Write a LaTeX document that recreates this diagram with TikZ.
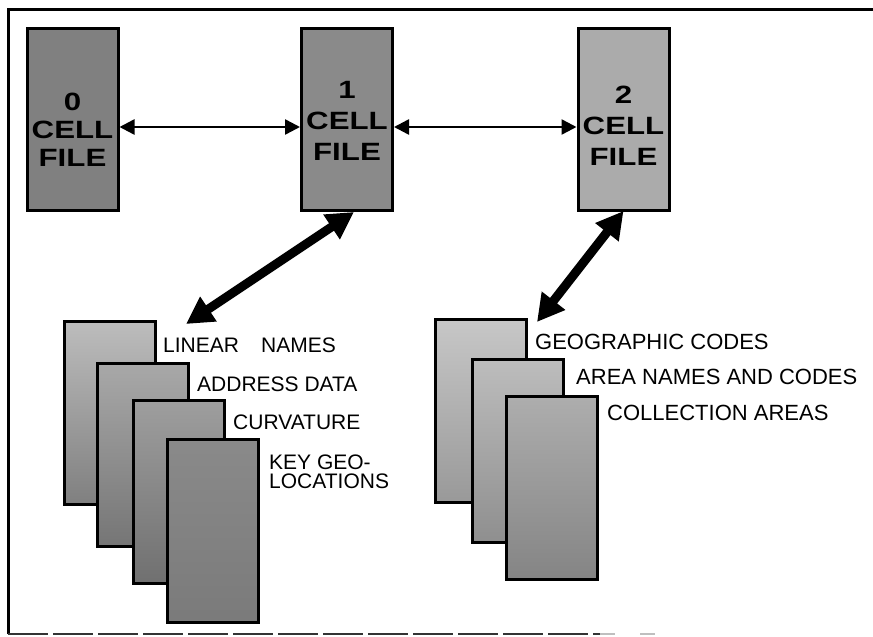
\documentclass[tikz,border=0pt]{standalone}
\usepackage{fontspec}
\setmainfont{Liberation Sans}
\newfontfamily\cellfont{Liberation Sans Bold}[FakeStretch=1.25]
\usetikzlibrary{arrows.meta,calc}
\tikzset{
  cellbox/.style={draw, line width=3pt, minimum width=91pt, minimum height=182pt, inner sep=0pt, outer sep=0pt},
  sheet/.style={draw, line width=3pt, minimum width=91pt, minimum height=183pt, inner sep=0pt, outer sep=0pt},
  celltext/.style={align=center, font=\cellfont\fontsize{25}{31}\selectfont, inner sep=0pt},
  lbl/.style={anchor=base west, inner sep=0pt, font=\fontsize{21}{19}\selectfont},
  rlbl/.style={anchor=base west, inner sep=0pt, font=\fontsize{22}{19}\selectfont},
  thinarrow/.style={line width=2.5pt, {Triangle[length=15pt,width=15pt]}-{Triangle[length=15pt,width=15pt]}},
  bigarrow/.style={line width=9pt, {Triangle[length=27pt,width=28pt]}-{Triangle[length=27pt,width=28pt]}},
}
\begin{document}
\begin{tikzpicture}[x=1pt,y=-1pt]
\useasboundingbox (0,0) rectangle (873,637);
% frame
\draw[line width=3pt] (873,9) -- (8,9) -- (8,634);
\draw[line width=2pt, black!80, dash pattern=on 40pt off 5pt] (8,634) -- (600,634);
\draw[line width=1.5pt, black!25, dash pattern=on 15pt off 25pt] (600,634) -- (660,634);
% cell files
\node[cellbox, fill=black!50] (b0) at (72.5,119) {};
\node[cellbox, fill=black!46] (b1) at (347,119) {};
\node[cellbox, fill=black!33] (b2) at (623.5,119) {};
\node[celltext, font=\cellfont\fontsize{25}{28}\selectfont] (t0) at (72.5,130) {0\\CELL\\FILE};
\node[celltext] (t1) at (347,121) {1\\CELL\\FILE};
\node[celltext] (t2) at (623.5,126) {2\\CELL\\FILE};
\draw[thinarrow] ($(b0.east)+(1.5,8)$) -- ($(b1.west)+(-1.5,8)$);
\draw[thinarrow] ($(b1.east)+(1.5,8)$) -- ($(b2.west)+(-1.5,8)$);
% left stack
\node[sheet, top color=black!26, bottom color=black!50] (L1) at (109.5,412.5) {};
\node[sheet, top color=black!34, bottom color=black!54] (L2) at (143,455) {};
\node[sheet, top color=black!38, bottom color=black!56] (L3) at (178.5,491.5) {};
\node[sheet, top color=black!46, bottom color=black!52] (L4) at (212.5,531) {};
% right stack
\node[sheet, top color=black!22, bottom color=black!40] (R1) at (480.5,410.5) {};
\node[sheet, top color=black!26, bottom color=black!44] (R2) at (517.5,450.5) {};
\node[sheet, top color=black!32, bottom color=black!48] (R3) at (551.5,487.5) {};
% big arrows
\draw[bigarrow] ($(b1.south)+(7,2)$) -- ($(L1.north east)+(31,3)$);
\draw[bigarrow] ($(b2.south)+(0,1)$) -- ($(R1.north east)+(11,3)$);
% labels
\node[lbl] (n1) at (163,352.5) {LINEAR\hspace{1.05em}NAMES};
\node[lbl] (n2) at (197,391.5) {ADDRESS DATA};
\node[lbl] (n3) at (233,429.5) {CURVATURE};
\node[anchor=north west, inner sep=0pt, align=left, font=\fontsize{21}{19}\selectfont] (n4) at (269,455) {KEY GEO-\\LOCATIONS};
\node[rlbl] (g1) at (535,349) {GEOGRAPHIC CODES};
\node[rlbl] (g2) at (576,384) {AREA NAMES AND CODES};
\node[rlbl] (g3) at (607,420) {COLLECTION AREAS};
\end{tikzpicture}
\end{document}
